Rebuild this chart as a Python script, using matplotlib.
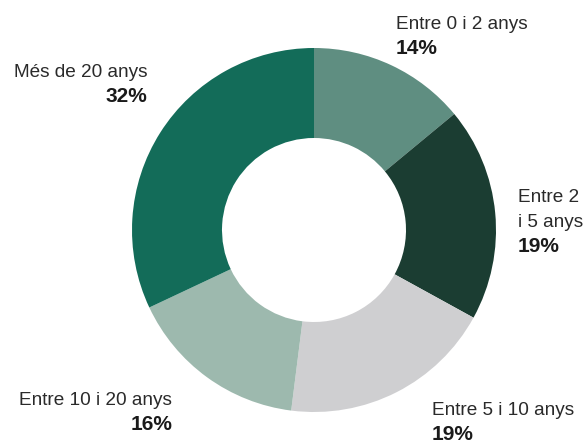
import matplotlib
matplotlib.use("Agg")
import matplotlib.pyplot as plt

categories = ["Entre 0 i 2 anys", "Entre 2\ni 5 anys", "Entre 5 i 10 anys",
              "Entre 10 i 20 anys", "Més de 20 anys"]
values = [14, 19, 19, 16, 32]
pct_labels = ["14%", "19%", "19%", "16%", "32%"]
colors = ["#5f8e81", "#1b3d32", "#cfcfd1", "#9db9ae", "#136c59"]

W, H = 584, 445
fig = plt.figure(figsize=(W / 100, H / 100), dpi=100)
ax = fig.add_axes([0, 0, 1, 1])

cx, cy, R, inner = 314, 230, 182, 92
ax.pie(values, colors=colors, startangle=90, counterclock=False,
       center=(cx, -cy), radius=R, frame=True,
       wedgeprops=dict(width=R - inner, linewidth=0))
ax.set_xlim(0, W)
ax.set_ylim(-H, 0)
ax.set_aspect("equal")
ax.axis("off")

plt.rcParams["font.family"] = ["Liberation Sans", "DejaVu Sans"]
# label anchor (x, baseline of first line, alignment) in image pixels
anchors = [(396, 29, "left"), (518, 202, "left"), (432, 415, "left"),
           (172, 405, "right"), (147, 77, "right")]
line = 25
for cat, pct, (x, yb, ha) in zip(categories, pct_labels, anchors):
    lines = cat.split("\n")
    for i, t in enumerate(lines):
        ax.text(x, -(yb + i * line), t, ha=ha, va="baseline",
                fontsize=13.7, color="#2a2a2a", family=["Liberation Sans", "DejaVu Sans"])
    ax.text(x, -(yb + len(lines) * line), pct, ha=ha, va="baseline",
            fontsize=15, fontweight="bold", color="#1a1a1a",
            family=["Liberation Sans", "DejaVu Sans"])

fig.savefig("out.png", dpi=100)
